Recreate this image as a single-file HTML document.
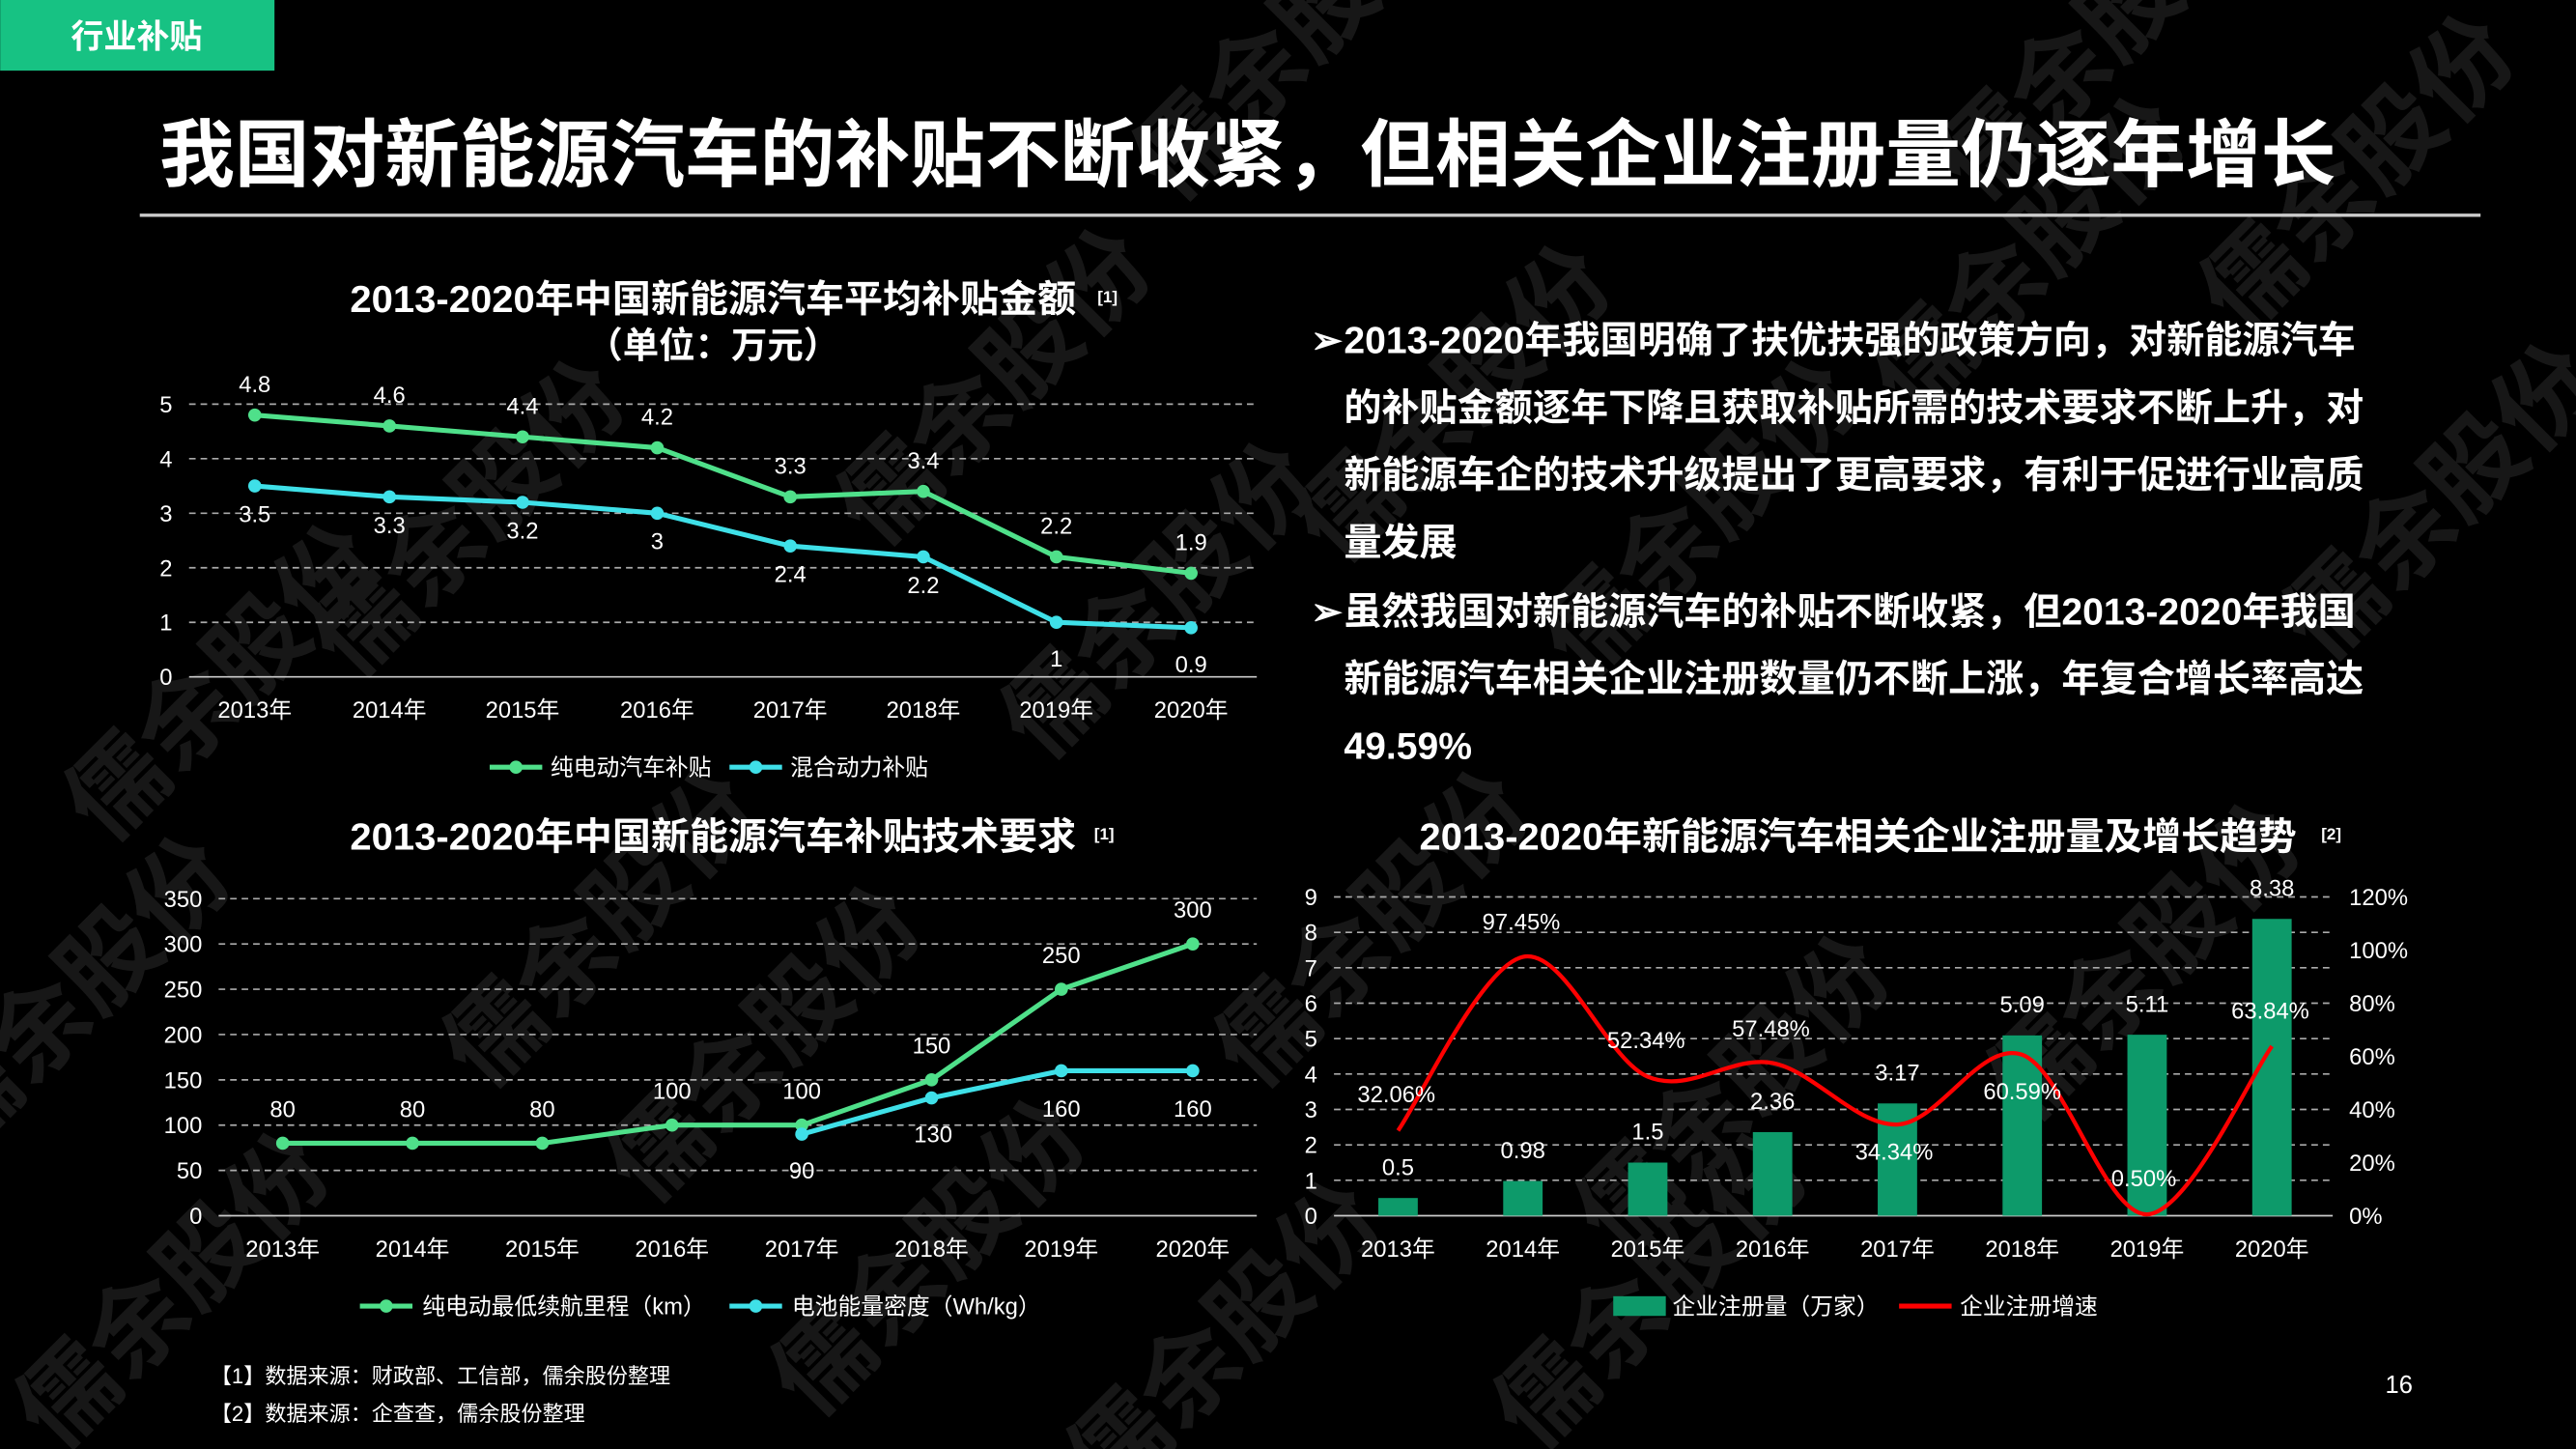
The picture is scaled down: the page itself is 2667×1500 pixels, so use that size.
<!DOCTYPE html>
<html><head><meta charset="utf-8">
<style>
html,body{margin:0;padding:0;background:#000;}
svg{display:block;}
text{font-family:"Liberation Sans","Noto Sans CJK SC",sans-serif;}
</style></head>
<body>
<svg id="s" width="2667" height="1500" viewBox="0 0 1568 882" xmlns="http://www.w3.org/2000/svg">
<rect width="1568" height="882" fill="#000"/>
<g id="wm" fill="#555" opacity="0.28" font-size="60" font-weight="bold"></g>
<rect x="0" y="0" width="167" height="43" fill="#17c283"/>
<text x="83" y="29" fill="#fff" font-size="20" font-weight="bold" text-anchor="middle">行业补贴</text>
<text x="97" y="110" fill="#fff" font-size="45" font-weight="bold" textLength="1325" lengthAdjust="spacingAndGlyphs">我国对新能源汽车的补贴不断收紧，但相关企业注册量仍逐年增长</text>
<line x1="85" y1="131" x2="1510" y2="131" stroke="#ccc" stroke-width="2"/>

<text x="213" y="190" fill="#fff" font-size="23" font-weight="bold" textLength="442" lengthAdjust="spacingAndGlyphs">2013-2020年中国新能源汽车平均补贴金额</text>
<text x="668" y="184" fill="#fff" font-size="10" font-weight="bold">[1]</text>
<text x="434" y="218" fill="#fff" font-size="22" font-weight="bold" text-anchor="middle">（单位：万元）</text>
<g id="c1"></g>
<text x="213" y="517" fill="#fff" font-size="23" font-weight="bold" textLength="442" lengthAdjust="spacingAndGlyphs">2013-2020年中国新能源汽车补贴技术要求</text>
<text x="666" y="511" fill="#fff" font-size="10" font-weight="bold">[1]</text>
<g id="c2"></g>
<text x="864" y="517" fill="#fff" font-size="23" font-weight="bold" textLength="534" lengthAdjust="spacingAndGlyphs">2013-2020年新能源汽车相关企业注册量及增长趋势</text>
<text x="1413" y="511" fill="#fff" font-size="10" font-weight="bold">[2]</text>
<g id="c3"></g>

<g fill="#fff" font-size="23" font-weight="bold">
<text x="798" y="215">➢</text>
<text x="818" y="215">2013-2020年我国明确了扶优扶强的政策方向，对新能源汽车</text>
<text x="818" y="256">的补贴金额逐年下降且获取补贴所需的技术要求不断上升，对</text>
<text x="818" y="297">新能源车企的技术升级提出了更高要求，有利于促进行业高质</text>
<text x="818" y="338">量发展</text>
<text x="798" y="380">➢</text>
<text x="818" y="380">虽然我国对新能源汽车的补贴不断收紧，但2013-2020年我国</text>
<text x="818" y="421">新能源汽车相关企业注册数量仍不断上涨，年复合增长率高达</text>
<text x="818" y="462">49.59%</text>
</g>
<g fill="#fff" font-size="13">
<text x="128" y="842">【1】数据来源：财政部、工信部，儒余股份整理</text>
<text x="128" y="865">【2】数据来源：企查查，儒余股份整理</text>
<text x="1452" y="848" font-size="15">16</text>
</g>
</svg>
<script>
const NS="http://www.w3.org/2000/svg";
function el(p,t,a,txt){const e=document.createElementNS(NS,t);for(const k in a)e.setAttribute(k,a[k]);if(txt!==undefined)e.textContent=txt;document.getElementById(p).appendChild(e);return e;}
const G="#4fe08a",C="#3fe0e8",yrs=["2013年","2014年","2015年","2016年","2017年","2018年","2019年","2020年"];
[[150,430],[300,330],[480,650],[620,250],[720,380],[900,260],[1050,330],[1250,170],[1450,120],[60,620],[380,580],[850,580],[1070,680],[1320,600],[1500,320],[120,800],[580,780],[760,830],[1020,800],[1290,40],[800,40]].forEach(([x,y])=>{el("wm","text",{x:x,y:y,transform:`rotate(-45 ${x} ${y})`,"text-anchor":"middle"},"儒余股份");});
(function(){const xs=[155,237,318,400,481,562,643,725],y0=412,k=33.2;
for(let i=0;i<=5;i++){const y=y0-i*k;el("c1","line",{x1:115,x2:765,y1:y,y2:y,stroke:i?"#aaa":"#ccc","stroke-dasharray":i?"4,3":"","stroke-width":1});el("c1","text",{x:101,y:y+5,fill:"#fff","font-size":14,"text-anchor":"middle"},i);}
xs.forEach((x,i)=>el("c1","text",{x:x,y:437,fill:"#fff","font-size":14,"text-anchor":"middle"},yrs[i]));
const g=[4.8,4.6,4.4,4.2,3.3,3.4,2.2,1.9],c=[3.5,3.3,3.2,3,2.4,2.2,1,0.9];
[[c,C,1],[g,G,0]].forEach(([d,col,below])=>{el("c1","polyline",{points:d.map((v,i)=>xs[i]+","+(y0-v*k)).join(" "),fill:"none",stroke:col,"stroke-width":3});
d.forEach((v,i)=>{el("c1","circle",{cx:xs[i],cy:y0-v*k,r:4,fill:col});
let ty=below?(i>=6?y0-v*k+27:y0-v*k+22):y0-v*k-14;el("c1","text",{x:xs[i],y:ty,fill:"#fff","font-size":14,"text-anchor":"middle"},v);});});
el("c1","line",{x1:298,x2:330,y1:467,y2:467,stroke:G,"stroke-width":3});el("c1","circle",{cx:314,cy:467,r:4,fill:G});
el("c1","text",{x:335,y:472,fill:"#fff","font-size":14},"纯电动汽车补贴");
el("c1","line",{x1:444,x2:476,y1:467,y2:467,stroke:C,"stroke-width":3});el("c1","circle",{cx:460,cy:467,r:4,fill:C});
el("c1","text",{x:481,y:472,fill:"#fff","font-size":14},"混合动力补贴");})();
(function(){const xs=[172,251,330,409,488,567,646,726],y0=740,k=0.5514;
for(let i=0;i<=7;i++){const v=i*50,y=y0-v*k;el("c2","line",{x1:133,x2:765,y1:y,y2:y,stroke:i?"#aaa":"#ccc","stroke-dasharray":i?"4,3":"",});el("c2","text",{x:123,y:y+5,fill:"#fff","font-size":14,"text-anchor":"end"},v);}
xs.forEach((x,i)=>el("c2","text",{x:x,y:765,fill:"#fff","font-size":14,"text-anchor":"middle"},yrs[i]));
const g=[80,80,80,100,100,150,250,300];
const cx=xs.slice(4),c=[90,130,160,160];
el("c2","polyline",{points:cx.map((x,i)=>x+","+(y0-c[i]*k)).join(" "),fill:"none",stroke:C,"stroke-width":3});
el("c2","polyline",{points:g.map((v,i)=>xs[i]+","+(y0-v*k)).join(" "),fill:"none",stroke:G,"stroke-width":3});
g.forEach((v,i)=>{el("c2","circle",{cx:xs[i],cy:y0-v*k,r:4,fill:G});el("c2","text",{x:xs[i],y:y0-v*k-16,fill:"#fff","font-size":14,"text-anchor":"middle"},v);});
c.forEach((v,i)=>{el("c2","circle",{cx:cx[i],cy:y0-v*k,r:4,fill:C});const ty=i<2?y0-v*k+27:y0-v*k+28;el("c2","text",{x:cx[i]+(i==1?1:0),y:ty,fill:"#fff","font-size":14,"text-anchor":"middle"},v);});
el("c2","line",{x1:219,x2:251,y1:795,y2:795,stroke:G,"stroke-width":3});el("c2","circle",{cx:235,cy:795,r:4,fill:G});
el("c2","text",{x:257,y:800,fill:"#fff","font-size":14},"纯电动最低续航里程（km）");
el("c2","line",{x1:444,x2:476,y1:795,y2:795,stroke:C,"stroke-width":3});el("c2","circle",{cx:460,cy:795,r:4,fill:C});
el("c2","text",{x:482,y:800,fill:"#fff","font-size":14},"电池能量密度（Wh/kg）");})();
(function(){const xs=[851,927,1003,1079,1155,1231,1307,1383],y0=740,k=21.56,pk=1.6167;
for(let i=0;i<=9;i++){const y=y0-i*k;el("c3","line",{x1:812,x2:1420,y1:y,y2:y,stroke:i?"#aaa":"#ccc","stroke-dasharray":i?"4,3":""});el("c3","text",{x:798,y:y+5,fill:"#fff","font-size":14,"text-anchor":"middle"},i);}
for(let i=0;i<=6;i++){const y=y0-i*20*pk;el("c3","text",{x:1430,y:y+5,fill:"#fff","font-size":14},(i*20)+"%");}
xs.forEach((x,i)=>el("c3","text",{x:x,y:765,fill:"#fff","font-size":14,"text-anchor":"middle"},yrs[i]));
const b=[0.5,0.98,1.5,2.36,3.17,5.09,5.11,8.38];
b.forEach((v,i)=>{el("c3","rect",{x:xs[i]-12,y:y0-v*k,width:24,height:v*k,fill:"#0d9a6a"});el("c3","text",{x:xs[i],y:y0-v*k-14,fill:"#fff","font-size":14,"text-anchor":"middle"},v);});
const p=[32.06,97.45,52.34,57.48,34.34,60.59,0.5,63.84];
const pts=p.map((v,i)=>[xs[i],y0-v*pk]);
let d="M"+pts[0];for(let i=0;i<pts.length-1;i++){const p0=pts[Math.max(0,i-1)],p1=pts[i],p2=pts[i+1],p3=pts[Math.min(pts.length-1,i+2)];
d+=` C${p1[0]+(p2[0]-p0[0])/6},${p1[1]+(p2[1]-p0[1])/6} ${p2[0]-(p3[0]-p1[0])/6},${p2[1]-(p3[1]-p1[1])/6} ${p2[0]},${p2[1]}`;}
el("c3","path",{d:d,fill:"none",stroke:"#f00","stroke-width":2.5});
const lp=[[850,671],[926,566],[1002,638],[1078,631],[1153,706],[1231,669],[1305,722],[1382,620]];
p.forEach((v,i)=>el("c3","text",{x:lp[i][0],y:lp[i][1],fill:"#fff","font-size":14,"text-anchor":"middle"},v.toFixed(2)+"%"));
el("c3","rect",{x:982,y:789,width:32,height:12,fill:"#0d9a6a"});
el("c3","text",{x:1018,y:800,fill:"#fff","font-size":14},"企业注册量（万家）");
el("c3","line",{x1:1156,x2:1188,y1:795,y2:795,stroke:"#f00","stroke-width":3});
el("c3","text",{x:1193,y:800,fill:"#fff","font-size":14},"企业注册增速");})();
</script>
</body></html>
